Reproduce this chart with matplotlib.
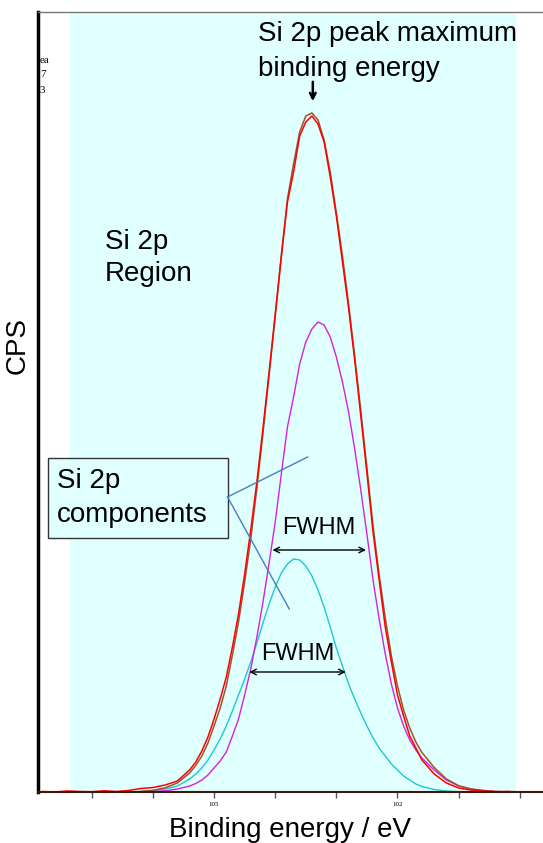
import matplotlib
matplotlib.use("Agg")
import matplotlib.pyplot as plt
from matplotlib.patches import Rectangle

plt.rcParams['font.family'] = ['Liberation Sans', 'DejaVu Sans']

# binding energy grid (eV), finer around the peak
energy = [107.8, 107.6, 107.4, 107.2, 107.0, 106.8, 106.6, 106.4, 106.2, 106.0, 105.8, 105.6,
          105.4, 105.3, 105.2, 105.1, 105.0, 104.9, 104.8, 104.7, 104.6, 104.5,
          104.4, 104.3, 104.2, 104.1, 104.0, 103.9, 103.8, 103.7, 103.6, 103.5,
          103.4, 103.3, 103.2, 103.1, 103.0, 102.9, 102.8, 102.7, 102.6, 102.5,
          102.4, 102.3, 102.2, 102.1, 102.0, 101.9, 101.8, 101.7, 101.6,
          101.4, 101.2, 101.0, 100.8, 100.6, 100.4, 100.2, 100.0, 99.8]

# raw counts
measured = [5, 0, 10, 5, 3, 12, 5, 15, 35, 45, 70, 110,
            220, 300, 410, 550, 730, 930, 1150, 1450, 1780, 2180,
            2620, 3100, 3640, 4200, 4780, 5350, 5900, 6200, 6560, 6700,
            6760, 6680, 6500, 6150, 5760, 5300, 4840, 4320, 3760, 3190,
            2600, 2120, 1650, 1300, 970, 760, 560, 440, 320,
            180, 90, 40, 20, 10, 3, 6, 0, 3]

# fitted envelope
envelope = [0, 0, 0, 0, 0, 0, 0, 0, 5, 17, 42, 90,
            190, 265, 360, 490, 660, 840, 1060, 1370, 1700, 2100,
            2530, 3040, 3590, 4170, 4750, 5370, 5930, 6280, 6600, 6760,
            6790, 6720, 6520, 6200, 5790, 5360, 4880, 4360, 3810, 3240,
            2660, 2170, 1740, 1360, 1060, 820, 640, 500, 395,
            245, 130, 63, 30, 15, 5, 0, 0, 0]

# Si 2p components
comp_1 = [0, 0, 0, 0, 0, 0, 0, 0, 0, 5, 12, 30,
          60, 85, 120, 170, 240, 310, 400, 560, 730, 970,
          1230, 1550, 1900, 2290, 2700, 3180, 3650, 3950, 4280, 4500,
          4630, 4700, 4670, 4550, 4350, 4100, 3800, 3430, 3020, 2580,
          2120, 1730, 1380, 1080, 840, 660, 520, 420, 340,
          220, 120, 60, 30, 15, 5, 0, 0, 0]

comp_2 = [0, 0, 0, 0, 0, 0, 0, 0, 5, 12, 30, 60,
          130, 180, 240, 320, 420, 530, 660, 810, 970, 1130,
          1300, 1490, 1690, 1880, 2050, 2190, 2280, 2330, 2320, 2260,
          2160, 2020, 1850, 1650, 1440, 1260, 1080, 930, 790, 660,
          540, 440, 360, 280, 220, 160, 120, 80, 55,
          25, 10, 3, 0, 0, 0, 0, 0, 0]

region = (107.36, 100.08)
fwhm_1 = (104.09, 102.47, 2420)
fwhm_2 = (104.47, 102.80, 1200)
peak_be = 103.385

fig = plt.figure(figsize=(5.43, 8.43), dpi=100)
ax = fig.add_axes([38 / 543, 1 - 792 / 843, 1 - 38 / 543, 780 / 843])

ax.axvspan(region[0], region[1], color='#e0ffff', zorder=0)

ax.plot(energy, comp_2, color='#1fc8d0', lw=1.0)
ax.plot(energy, comp_1, color='#d622d6', lw=1.0)
ax.plot(energy, envelope, color='#a0522d', lw=1.1)
ax.plot(energy, measured, color='#ff0000', lw=1.1)

ax.set_xlim(107.88, 99.62)
ax.set_ylim(0, 7800)

ax.set_xticks([107, 106, 105, 104, 103, 102, 101, 100])
ax.set_xticklabels(['', '', '105', '', '', '102', '', ''],
                   family='Liberation Serif', fontsize=5)
ax.tick_params(axis='x', length=4, width=1, color='#555555', pad=3)
ax.set_yticks([])

ax.spines['right'].set_visible(False)
ax.spines['left'].set_linewidth(2.5)
ax.spines['left'].set_color('black')
ax.spines['top'].set_color('#777777')
ax.spines['top'].set_linewidth(1)
ax.spines['bottom'].set_color('#3a1a10')
ax.spines['bottom'].set_linewidth(1.5)

# peak maximum label and arrow
ax.text(104.28, 7510, 'Si 2p peak maximum', fontsize=20, va='baseline', ha='left')
ax.text(104.28, 7160, 'binding energy', fontsize=20, va='baseline', ha='left')
ax.annotate('', xy=(peak_be, 6880), xytext=(peak_be, 7130),
            arrowprops=dict(arrowstyle='->', color='black', lw=1.8))

ax.text(106.79, 5430, 'Si 2p', fontsize=20, va='baseline')
ax.text(106.79, 5110, 'Region', fontsize=20, va='baseline')

# components callout box
ax.add_patch(Rectangle((104.78, 2540), 107.72 - 104.78, 800,
                       facecolor='#e0ffff', edgecolor='#333333', lw=1, zorder=3))
ax.text(107.57, 3040, 'Si 2p', fontsize=20, va='baseline', zorder=4)
ax.text(107.57, 2700, 'components', fontsize=20, va='baseline', zorder=4)
ax.plot([104.78, 103.47], [2950, 3350], color='#4a7ebb', lw=1, zorder=4)
ax.plot([104.78, 103.77], [2950, 1830], color='#4a7ebb', lw=1, zorder=4)

# FWHM markers
ax.annotate('', xy=(fwhm_1[0], fwhm_1[2]), xytext=(fwhm_1[1], fwhm_1[2]),
            arrowprops=dict(arrowstyle='<->', color='black', lw=1))
ax.text((fwhm_1[0] + fwhm_1[1]) / 2, 2580, 'FWHM', fontsize=17,
        ha='center', va='baseline')
ax.annotate('', xy=(fwhm_2[0], fwhm_2[2]), xytext=(fwhm_2[1], fwhm_2[2]),
            arrowprops=dict(arrowstyle='<->', color='black', lw=1))
ax.text((fwhm_2[0] + fwhm_2[1]) / 2, 1320, 'FWHM', fontsize=17,
        ha='center', va='baseline')

# leftover legend fragments
for txt, yp in [('ea', 63), ('7', 77), ('3', 93)]:
    fig.text(40 / 543, 1 - yp / 843, txt, family='Liberation Serif',
             fontsize=8, va='baseline')

fig.text(18 / 543, 1 - 345 / 843, 'CPS', rotation=90, fontsize=20,
         ha='center', va='center')
fig.text(290 / 543, 1 - 830 / 843, 'Binding energy / eV', fontsize=20,
         ha='center', va='center')

fig.savefig('out.png', dpi=100)
